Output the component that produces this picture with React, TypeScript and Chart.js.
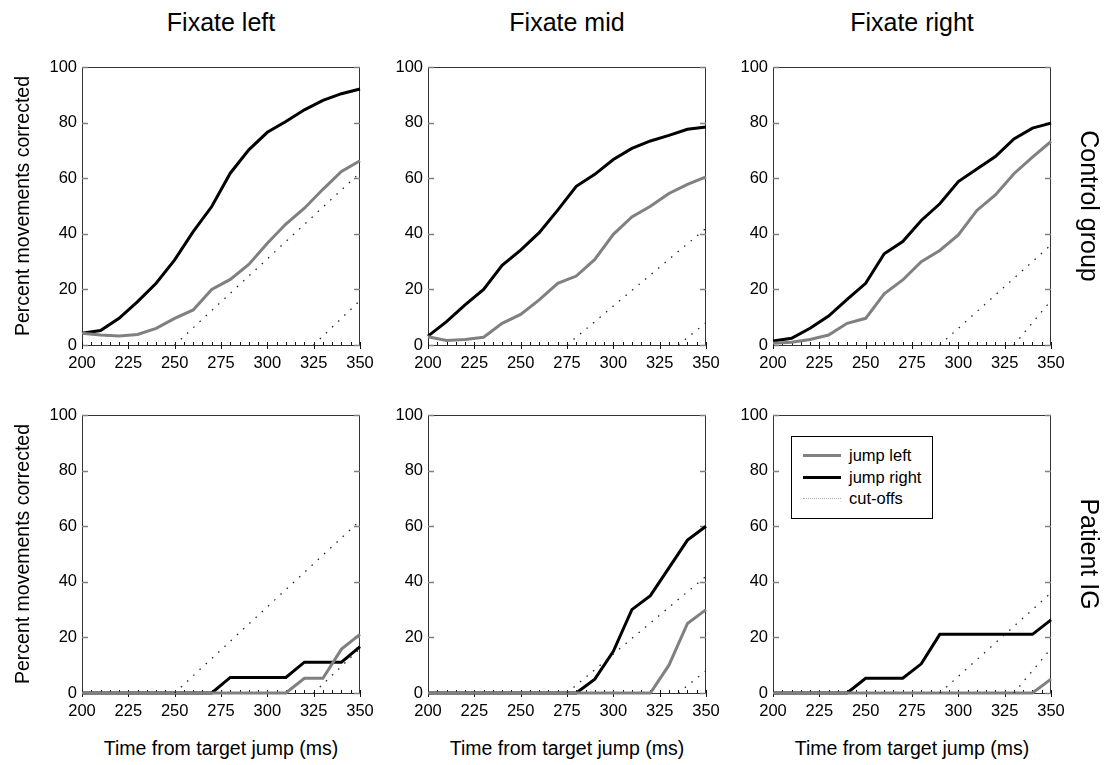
import React, { useEffect, useRef } from 'react';
import { Chart, registerables } from 'chart.js';
Chart.register(...registerables);

const FONT = '"Liberation Sans", Arial, Helvetica, sans-serif';

// time axis (ms)
const times = [200, 210, 220, 230, 240, 250, 260, 270, 280, 290, 300, 310, 320, 330, 340, 350];
const xTickValues = [200, 225, 250, 275, 300, 325, 350];
const yTickValues = [0, 20, 40, 60, 80, 100];

// Control group
const ctrlLeftJumpLeft = [4.2, 3.6, 3.2, 3.8, 6, 9.6, 12.6, 20, 23.6, 29, 36.6, 43.5, 49.2, 56, 62.4, 66.3];
const ctrlLeftJumpRight = [4.2, 5.2, 9.6, 15.6, 22.2, 30.6, 40.8, 49.8, 61.8, 70.2, 76.5, 80.4, 84.6, 88, 90.4, 92.1];
const ctrlMidJumpLeft = [3, 1.6, 2, 2.8, 7.8, 11, 16.2, 22.2, 24.8, 30.8, 39.8, 46.1, 49.9, 54.5, 57.8, 60.5];
const ctrlMidJumpRight = [3.2, 8.4, 14.4, 20, 28.7, 34.1, 40.4, 48.5, 57.1, 61.4, 66.7, 70.7, 73.4, 75.4, 77.6, 78.4];
const ctrlRightJumpLeft = [0.6, 1, 2, 3.6, 7.8, 9.6, 18.4, 23.4, 30, 34, 39.6, 48.4, 54, 61.6, 67.6, 73.2];
const ctrlRightJumpRight = [1.4, 2.4, 6, 10.4, 16.4, 22.2, 32.8, 37.2, 44.8, 50.8, 58.8, 63.3, 67.8, 74.1, 78, 79.8];

// Patient IG
const patLeftJumpLeft = [0, 0, 0, 0, 0, 0, 0, 0, 0, 0, 0, 0, 5.3, 5.3, 15.8, 21.1];
const patLeftJumpRight = [0, 0, 0, 0, 0, 0, 0, 0, 5.6, 5.6, 5.6, 5.6, 11.1, 11.1, 11.1, 16.7];
const patMidJumpLeft = [0, 0, 0, 0, 0, 0, 0, 0, 0, 0, 0, 0, 0, 10, 25, 30];
const patMidJumpRight = [0, 0, 0, 0, 0, 0, 0, 0, 0, 5, 15, 30, 35, 45, 55, 60];
const patRightJumpLeft = [0, 0, 0, 0, 0, 0, 0, 0, 0, 0, 0, 0, 0, 0, 0, 5];
const patRightJumpRight = [0, 0, 0, 0, 0, 5.3, 5.3, 5.3, 10.5, 21.1, 21.1, 21.1, 21.1, 21.1, 21.1, 26.3];

// cut-off lines: [x start, x end] and [y start, y end]
const cutLeftAX = [250, 350];
const cutLeftAY = [0, 62];
const cutLeftBX = [325, 350];
const cutLeftBY = [0, 16];
const cutMidAX = [275, 350];
const cutMidAY = [0, 42];
const cutMidBX = [335, 350];
const cutMidBY = [0, 8];
const cutRightAX = [290, 350];
const cutRightAY = [0, 36];
const cutRightBX = [330, 350];
const cutRightBY = [0, 16];

const colTitles = ['Fixate left', 'Fixate mid', 'Fixate right'];
const rowTitles = ['Control group', 'Patient IG'];
const yTitle = 'Percent movements corrected';
const xTitle = 'Time from target jump (ms)';
const legendLabels = ['jump left', 'jump right', 'cut-offs'];

const GRAY = '#808080';
const COL_L = [82, 428, 773];
const ROW_T = [67, 415];
const SIZE = 278;
const PAD_L = 60;
const PAD_T = 12;
const PAD_R = 22;
const PAD_B = 30;

type PanelProps = {
  left: number;
  top: number;
  jumpLeft: number[];
  jumpRight: number[];
  cuts: [number[], number[]][];
};

const framePlugin = {
  id: 'frameTicks',
  beforeDatasetsDraw(chart: any) {
    const { ctx, chartArea } = chart;
    const { left, right, top, bottom } = chartArea;
    const xs = chart.scales.x;
    const ys = chart.scales.y;
    ctx.save();
    ctx.strokeStyle = '#333';
    ctx.lineWidth = 1;
    ctx.strokeRect(left + 0.5, top + 0.5, right - left - 1, bottom - top);
    ctx.strokeStyle = GRAY;
    ctx.lineWidth = 1.5;
    for (const v of yTickValues) {
      const y = Math.round(ys.getPixelForValue(v)) + 0.5;
      ctx.beginPath();
      ctx.moveTo(left, y);
      ctx.lineTo(left + 6, y);
      ctx.moveTo(right - 6, y);
      ctx.lineTo(right, y);
      ctx.stroke();
    }
    ctx.strokeStyle = '#111';
    ctx.lineWidth = 1;
    for (let t = 200; t <= 350; t += 5) {
      const x = Math.round(xs.getPixelForValue(t)) + 0.5;
      ctx.beginPath();
      const major = t % 25 === 0;
      ctx.moveTo(x, bottom - 3);
      ctx.lineTo(x, bottom + (major ? 4 : 0));
      ctx.stroke();
    }
    ctx.restore();
  },
};

function Panel({ left, top, jumpLeft, jumpRight, cuts }: PanelProps) {
  const ref = useRef<HTMLCanvasElement>(null);
  useEffect(() => {
    if (!ref.current) return;
    const datasets: any[] = [];
    cuts.forEach(([xs, ys]) => {
      datasets.push({
        data: xs.map((x, i) => ({ x, y: ys[i] })),
        borderColor: '#222',
        borderWidth: 1.3,
        borderDash: [1.5, 7],
        pointRadius: 0,
        clip: 0,
      });
    });
    datasets.push({
      data: times.map((t, i) => ({ x: t, y: jumpLeft[i] })),
      borderColor: GRAY,
      borderWidth: 3,
      pointRadius: 0,
      tension: 0,
      clip: 6,
    });
    datasets.push({
      data: times.map((t, i) => ({ x: t, y: jumpRight[i] })),
      borderColor: '#000',
      borderWidth: 3,
      pointRadius: 0,
      tension: 0,
      clip: 6,
    });
    const chart = new Chart(ref.current, {
      type: 'line',
      data: { datasets },
      plugins: [framePlugin],
      options: {
        animation: false,
        responsive: false,
        devicePixelRatio: 1,
        layout: { padding: { top: PAD_T, right: PAD_R, left: 0, bottom: 0 } },
        plugins: { legend: { display: false }, tooltip: { enabled: false } },
        scales: {
          x: {
            type: 'linear',
            min: 200,
            max: 350,
            afterBuildTicks: (s: any) => {
              s.ticks = xTickValues.map((v) => ({ value: v }));
            },
            afterFit: (s: any) => {
              s.height = PAD_B;
              s.paddingLeft = 0;
              s.paddingRight = 0;
            },
            grid: { display: false, drawTicks: false },
            border: { display: false },
            ticks: { padding: 9, color: '#000', font: { family: FONT, size: 16.5 }, maxRotation: 0 },
          },
          y: {
            type: 'linear',
            min: 0,
            max: 100,
            afterBuildTicks: (s: any) => {
              s.ticks = yTickValues.map((v) => ({ value: v }));
            },
            afterFit: (s: any) => {
              s.width = PAD_L;
              s.paddingTop = 0;
              s.paddingBottom = 0;
            },
            grid: { display: false, drawTicks: false },
            border: { display: false },
            ticks: { padding: 5, color: '#000', font: { family: FONT, size: 16.5 } },
          },
        },
      } as any,
    });
    return () => chart.destroy();
  }, []);
  return (
    <canvas
      ref={ref}
      width={SIZE + PAD_L + PAD_R}
      height={SIZE + PAD_T + PAD_B}
      style={{ position: 'absolute', left: left - PAD_L, top: top - PAD_T, width: SIZE + PAD_L + PAD_R, height: SIZE + PAD_T + PAD_B }}
    />
  );
}

const textBase: React.CSSProperties = { position: 'absolute', fontFamily: FONT, color: '#000', whiteSpace: 'nowrap', textAlign: 'center' };

export default function App() {
  const panels = [
    { jl: ctrlLeftJumpLeft, jr: ctrlLeftJumpRight, cuts: [[cutLeftAX, cutLeftAY], [cutLeftBX, cutLeftBY]] },
    { jl: ctrlMidJumpLeft, jr: ctrlMidJumpRight, cuts: [[cutMidAX, cutMidAY], [cutMidBX, cutMidBY]] },
    { jl: ctrlRightJumpLeft, jr: ctrlRightJumpRight, cuts: [[cutRightAX, cutRightAY], [cutRightBX, cutRightBY]] },
    { jl: patLeftJumpLeft, jr: patLeftJumpRight, cuts: [[cutLeftAX, cutLeftAY], [cutLeftBX, cutLeftBY]] },
    { jl: patMidJumpLeft, jr: patMidJumpRight, cuts: [[cutMidAX, cutMidAY], [cutMidBX, cutMidBY]] },
    { jl: patRightJumpLeft, jr: patRightJumpRight, cuts: [[cutRightAX, cutRightAY], [cutRightBX, cutRightBY]] },
  ];
  return (
    <div style={{ position: 'fixed', left: 0, top: 0, width: 1116, height: 765, background: '#fff', overflow: 'hidden' }}>
      {panels.map((p, i) => (
        <Panel
          key={i}
          left={COL_L[i % 3]}
          top={ROW_T[Math.floor(i / 3)]}
          jumpLeft={p.jl}
          jumpRight={p.jr}
          cuts={p.cuts as any}
        />
      ))}
      {colTitles.map((t, i) => (
        <div key={t} style={{ ...textBase, left: COL_L[i], width: SIZE, top: 9, fontSize: 25, lineHeight: '26px' }}>
          {t}
        </div>
      ))}
      {rowTitles.map((t, i) => (
        <div
          key={t}
          style={{
            ...textBase,
            left: 1090 - 150,
            width: 300,
            top: ROW_T[i] + SIZE / 2 - 15,
            height: 30,
            lineHeight: '30px',
            fontSize: 25,
            transform: 'rotate(90deg)',
          }}
        >
          {t}
        </div>
      ))}
      {ROW_T.map((top, i) => (
        <div
          key={'yt' + i}
          style={{
            ...textBase,
            left: 22 - 150,
            width: 300,
            top: top + SIZE / 2 - 12,
            height: 24,
            lineHeight: '24px',
            fontSize: 19.5,
            transform: 'rotate(-90deg)',
          }}
        >
          {yTitle}
        </div>
      ))}
      {COL_L.map((l, i) => (
        <div key={'xt' + i} style={{ ...textBase, left: l, width: SIZE, top: 736, fontSize: 19.5, lineHeight: '24px' }}>
          {xTitle}
        </div>
      ))}
      <div
        style={{
          position: 'absolute',
          left: 791,
          top: 436,
          width: 140,
          height: 81,
          border: '1px solid #000',
          background: '#fff',
          fontFamily: FONT,
          fontSize: 16.5,
        }}
      >
        {legendLabels.map((lab, i) => (
          <div key={lab} style={{ position: 'absolute', left: 0, top: 8 + i * 21.5, height: 20, width: 140 }}>
            <div
              style={{
                position: 'absolute',
                left: 11,
                top: 9,
                width: 38,
                height: 0,
                borderTop: i === 0 ? `3px solid ${GRAY}` : i === 1 ? '3px solid #000' : '1px dotted #aaa',
                marginTop: i === 2 ? 1 : 0,
              }}
            />
            <div style={{ position: 'absolute', left: 57, top: 0, lineHeight: '20px', whiteSpace: 'nowrap' }}>{lab}</div>
          </div>
        ))}
      </div>
    </div>
  );
}
